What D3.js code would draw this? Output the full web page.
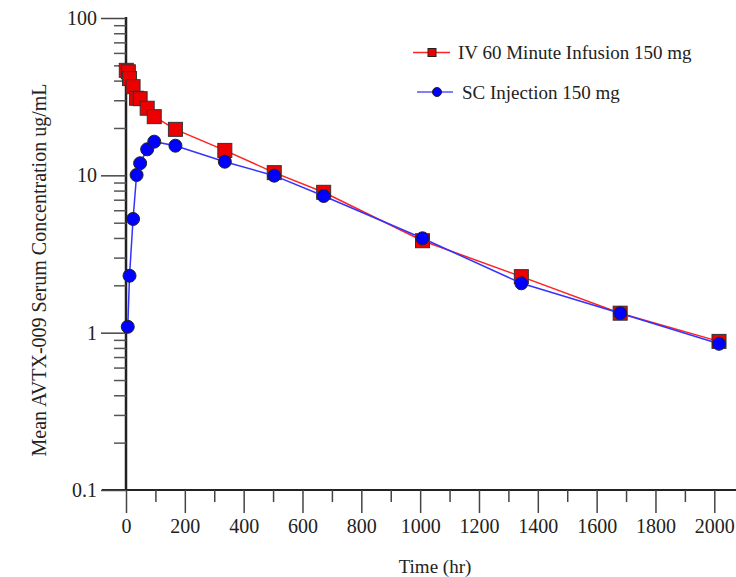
<!DOCTYPE html>
<html lang="en">

<head>
	<meta charset="UTF-8">
	<title>AVTX-009 concentration</title>
	<script type="text/javascript" src="https://cdn.jsdelivr.net/npm/d3@7/dist/d3.min.js" charset="UTF-8"></script>
	<style>
		body { margin: 0; background: #fff; }
	</style>
</head>

<body>
	<script type="text/javascript">
	// IV 60 minute infusion 150 mg
	let ivTime = [1, 8, 12, 24, 36, 48, 72, 96, 168, 336, 504, 672, 1008, 1344, 1680, 2016]
	let ivConc = [46.5, 45.5, 41.2, 36.6, 30.9, 30.7, 26.7, 23.6, 19.6, 14.4, 10.4, 7.8, 3.84, 2.27, 1.33, 0.88]

	// SC injection 150 mg
	let scTime = [6, 12, 24, 36, 48, 72, 96, 168, 336, 504, 672, 1008, 1344, 1680, 2016]
	let scConc = [1.09, 2.3, 5.28, 10.05, 11.93, 14.64, 16.37, 15.43, 12.21, 9.95, 7.39, 3.98, 2.06, 1.33, 0.85]

	let xMajor = [0, 200, 400, 600, 800, 1000, 1200, 1400, 1600, 1800, 2000]
	let xMinor = [100, 300, 500, 700, 900, 1100, 1300, 1500, 1700, 1900]
	let yMajor = [0.1, 1, 10, 100]
	let yLabels = ['0.1', '1', '10', '100']
	let legendNames = ['IV 60 Minute Infusion 150 mg', 'SC Injection 150 mg']

	let width = 736, height = 577
	let serif = '"Liberation Serif", "Times New Roman", "DejaVu Serif", serif'

	let svg = d3.select('body').append('svg')
		.attr('width', width)
		.attr('height', height)

	let x = d3.scaleLinear().domain([0, 2000]).range([126, 714.3])
	let y = d3.scaleLog().domain([0.1, 100]).range([490, 18])

	let yMinor = []
	for (let p = -1; p < 2; p++) {
		for (let k = 2; k < 10; k++) yMinor.push(k * Math.pow(10, p))
	}

	// axis lines
	svg.append('line')
		.attr('x1', x(-82)).attr('x2', width)
		.attr('y1', y(0.1)).attr('y2', y(0.1))
		.attr('stroke', '#222').attr('stroke-width', 2)
	svg.append('line')
		.attr('x1', x(0)).attr('x2', x(0))
		.attr('y1', y(100) - 1).attr('y2', y(0.1))
		.attr('stroke', '#222').attr('stroke-width', 2.5)

	// x ticks
	let gx = svg.append('g').attr('transform', `translate(0,${y(0.1)})`)
		.call(d3.axisBottom(x).tickValues(xMajor).tickSize(23).tickPadding(6).tickFormat(d3.format('d')))
	gx.select('.domain').remove()
	gx.attr('font-family', null)
	gx.selectAll('line').attr('stroke', '#444').attr('stroke-width', 1.5)
	gx.selectAll('text').style('font-family', serif).style('font-size', '20px').attr('fill', '#222')

	let gx2 = svg.append('g').attr('transform', `translate(0,${y(0.1)})`)
		.call(d3.axisBottom(x).tickValues(xMinor).tickSize(12).tickFormat(''))
	gx2.select('.domain').remove()
	gx2.selectAll('line').attr('stroke', '#444').attr('stroke-width', 1.5)

	// y ticks
	let gy = svg.append('g').attr('transform', `translate(${x(0)},0)`)
		.call(d3.axisLeft(y).tickValues(yMajor).tickSize(25).tickPadding(4).tickFormat((d, i) => yLabels[i]))
	gy.select('.domain').remove()
	gy.attr('font-family', null)
	gy.selectAll('line').attr('stroke', '#444').attr('stroke-width', 1.5)
	gy.selectAll('text').style('font-family', serif).style('font-size', '20px').attr('fill', '#222')

	let gy2 = svg.append('g').attr('transform', `translate(${x(0)},0)`)
		.call(d3.axisLeft(y).tickValues(yMinor).tickSize(12).tickFormat(''))
	gy2.select('.domain').remove()
	gy2.selectAll('line').attr('stroke', '#555').attr('stroke-width', 1.5)

	// axis titles
	svg.append('text')
		.attr('x', 435).attr('y', 573)
		.attr('text-anchor', 'middle')
		.style('font-family', serif)
		.style('font-size', '19px')
		.attr('fill', '#222')
		.text('Time (hr)')

	svg.append('text')
		.attr('transform', 'translate(46,270) rotate(-90)')
		.attr('text-anchor', 'middle')
		.style('font-family', serif)
		.style('font-size', '20px')
		.attr('fill', '#222')
		.text('Mean AVTX-009 Serum Concentration ug/mL')

	// series
	let line = d3.line().x(d => x(d[0])).y(d => y(d[1]))
	let ivData = ivTime.map((t, i) => [t, ivConc[i]])
	let scData = scTime.map((t, i) => [t, scConc[i]])

	svg.append('path')
		.attr('d', line(ivData))
		.attr('stroke', '#f22')
		.attr('stroke-width', 1.5)
		.attr('fill', 'none')

	svg.selectAll('rect.iv')
		.data(ivData)
		.enter()
		.append('rect')
		.attr('class', 'iv')
		.attr('x', d => x(d[0]) - 7)
		.attr('y', d => y(d[1]) - 7)
		.attr('width', 14)
		.attr('height', 14)
		.attr('fill', '#e00')
		.attr('stroke', '#333')
		.attr('stroke-width', 1)

	svg.append('path')
		.attr('d', line(scData))
		.attr('stroke', '#33f')
		.attr('stroke-width', 1.5)
		.attr('fill', 'none')

	svg.selectAll('circle.sc')
		.data(scData)
		.enter()
		.append('circle')
		.attr('class', 'sc')
		.attr('cx', d => x(d[0]))
		.attr('cy', d => y(d[1]))
		.attr('r', 6.5)
		.attr('fill', '#00f')
		.attr('stroke', '#222')
		.attr('stroke-width', 1)

	// legend
	let leg = svg.append('g')
	leg.append('line').attr('x1', 413).attr('x2', 450).attr('y1', 52.5).attr('y2', 52.5)
		.attr('stroke', '#f22').attr('stroke-width', 1.5)
	leg.append('rect').attr('x', 428).attr('y', 48.5).attr('width', 8).attr('height', 8)
		.attr('fill', '#e00').attr('stroke', '#222').attr('stroke-width', 1)
	leg.append('text').attr('x', 458).attr('y', 59).style('font-family', serif).style('font-size', '19px')
		.attr('fill', '#222').text(legendNames[0])

	leg.append('line').attr('x1', 417).attr('x2', 453).attr('y1', 92).attr('y2', 92)
		.attr('stroke', '#55f').attr('stroke-width', 1.5)
	leg.append('circle').attr('cx', 437).attr('cy', 92).attr('r', 4.5)
		.attr('fill', '#00f').attr('stroke', '#222').attr('stroke-width', 1)
	leg.append('text').attr('x', 462).attr('y', 98.5).style('font-family', serif).style('font-size', '19px')
		.attr('fill', '#222').text(legendNames[1])
	</script>
</body>

</html>
